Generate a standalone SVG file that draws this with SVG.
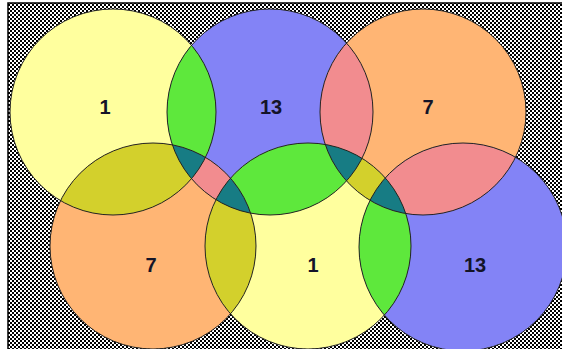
<svg xmlns="http://www.w3.org/2000/svg" xmlns:xlink="http://www.w3.org/1999/xlink" width="562" height="349" viewBox="0 0 562 349">
<style>
.lbl{font-family:"Liberation Sans",Arial,sans-serif;font-weight:bold;font-size:20px;fill:#141428;text-anchor:middle}
.yel{fill:#FFFF9E}
.blu{fill:#8383F6}
.ora{fill:#FFB574}
.grn{fill:#5EE83C}
.pnk{fill:#F28C8F}
.olv{fill:#D3D02C}
.tea{fill:#177C84}
.out{fill:none;stroke:#222;stroke-width:1}
</style>
<defs>
<pattern id="chk" width="4" height="4" patternUnits="userSpaceOnUse">
<rect width="4" height="4" fill="#fff"/>
<rect width="2" height="2" fill="#000"/>
<rect x="2" y="2" width="2" height="2" fill="#000"/>
</pattern>
<circle id="Y1" cx="113" cy="112" r="103"/>
<circle id="B1" cx="270" cy="112" r="103"/>
<circle id="O1" cx="423" cy="112" r="103"/>
<circle id="O2" cx="153" cy="246" r="103"/>
<circle id="Y2" cx="308" cy="246" r="103"/>
<circle id="B2" cx="463" cy="247" r="104"/>
<clipPath id="cY1"><use xlink:href="#Y1"/></clipPath>
<clipPath id="cB1"><use xlink:href="#B1"/></clipPath>
<clipPath id="cO1"><use xlink:href="#O1"/></clipPath>
<clipPath id="cO2"><use xlink:href="#O2"/></clipPath>
<clipPath id="cY2"><use xlink:href="#Y2"/></clipPath>
<clipPath id="cB2"><use xlink:href="#B2"/></clipPath>
</defs>
<rect x="8" y="3" width="560" height="350" fill="url(#chk)" stroke="#000" stroke-width="1.5"/>
<g id="node-yellow-1-top"><use xlink:href="#Y1" class="yel"/><text class="lbl" x="105" y="114">1</text></g>
<g id="node-blue-13-top"><use xlink:href="#B1" class="blu"/><text class="lbl" x="271" y="114">13</text></g>
<g id="node-orange-7-top"><use xlink:href="#O1" class="ora"/><text class="lbl" x="428" y="114">7</text></g>
<g id="node-orange-7-bottom"><use xlink:href="#O2" class="ora"/><text class="lbl" x="151" y="272">7</text></g>
<g id="node-yellow-1-bottom"><use xlink:href="#Y2" class="yel"/><text class="lbl" x="313" y="272">1</text></g>
<g id="node-blue-13-bottom"><use xlink:href="#B2" class="blu"/><text class="lbl" x="475" y="272">13</text></g>
<g id="overlaps">
<use xlink:href="#B1" class="grn" clip-path="url(#cY1)"/>
<use xlink:href="#B1" class="grn" clip-path="url(#cY2)"/>
<use xlink:href="#B2" class="grn" clip-path="url(#cY2)"/>
<use xlink:href="#B1" class="pnk" clip-path="url(#cO1)"/>
<use xlink:href="#B1" class="pnk" clip-path="url(#cO2)"/>
<use xlink:href="#B2" class="pnk" clip-path="url(#cO1)"/>
<use xlink:href="#Y1" class="olv" clip-path="url(#cO2)"/>
<use xlink:href="#Y2" class="olv" clip-path="url(#cO2)"/>
<use xlink:href="#Y2" class="olv" clip-path="url(#cO1)"/>
<g clip-path="url(#cO2)"><use xlink:href="#B1" class="tea" clip-path="url(#cY1)"/></g>
<g clip-path="url(#cO2)"><use xlink:href="#B1" class="tea" clip-path="url(#cY2)"/></g>
<g clip-path="url(#cO1)"><use xlink:href="#B1" class="tea" clip-path="url(#cY2)"/></g>
<g clip-path="url(#cO1)"><use xlink:href="#B2" class="tea" clip-path="url(#cY2)"/></g>
</g>
<g id="outlines">
<use xlink:href="#Y1" class="out"/>
<use xlink:href="#B1" class="out"/>
<use xlink:href="#O1" class="out"/>
<use xlink:href="#O2" class="out"/>
<use xlink:href="#Y2" class="out"/>
<use xlink:href="#B2" class="out"/>
</g>
</svg>
